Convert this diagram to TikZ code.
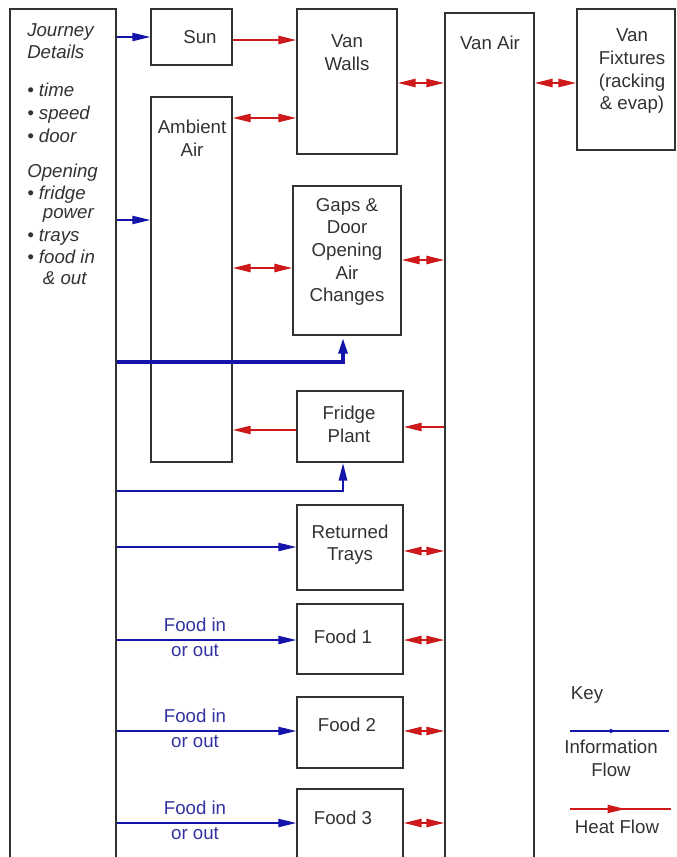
\documentclass[tikz,border=0pt]{standalone}
\usepackage{fontspec}
\setmainfont{Liberation Sans}
\usetikzlibrary{arrows.meta,positioning,calc,fit,decorations.markings}
\definecolor{infoblue}{RGB}{20,20,170}
\definecolor{heatred}{RGB}{205,25,25}
\definecolor{boxgray}{RGB}{50,50,50}
\definecolor{labelblue}{RGB}{50,50,160}
\tikzset{Hd/.tip={Triangle[length=13.5pt,width=6pt]}}

\begin{document}
\begin{tikzpicture}[x=0.75pt,y=-0.75pt,
	box/.style={draw=boxgray, line width=0.8pt, inner sep=0pt},
	txt/.style={text=boxgray, font=\fontsize{14}{17}\selectfont, align=center},
	jtxt/.style={text=boxgray, font=\fontsize{14}{17}\selectfont\itshape, anchor=base west, inner sep=0pt},
	flbl/.style={text=labelblue, font=\fontsize{14}{18.5}\selectfont, align=center},
	info/.style={draw=infoblue, line width=1.5pt, -Hd},
	infothick/.style={info, line width=3.7pt},
	heat/.style={draw=heatred, line width=1.6pt, -Hd},
	heat2/.style={heat, Hd-Hd}]
	\useasboundingbox (0,0) rectangle (676,857);
	\clip (0,0) rectangle (676,857);
	
	% boxes
	\node[box, fit={(10,9)(116,880)}] (jd) {};
	\node[box, fit={(151,9)(232,65)}] (sun) {};
	\node[box, fit={(297,9)(397,154)}] (walls) {};
	\node[box, fit={(151,97)(232,462)}] (amb) {};
	\node[box, fit={(445,13)(534,880)}] (vanair) {};
	\node[box, fit={(577,9)(675,150)}] (fix) {};
	\node[box, fit={(293,186)(401,335)}] (gaps) {};
	\node[box, fit={(297,391)(403,462)}] (fridge) {};
	\node[box, fit={(297,505)(403,590)}] (trays) {};
	\node[box, fit={(297,604)(403,674)}] (food1) {};
	\node[box, fit={(297,697)(403,768)}] (food2) {};
	\node[box, fit={(297,789)(403,880)}] (food3) {};
	
	% journey details
	\foreach \yy/\tx [count=\i] in {36/Journey, 58/Details, 96/{\textbullet\ time},
		119/{\textbullet\ speed}, 142/{\textbullet\ door}, 177/Opening,
		199/{\textbullet\ fridge}, 218/{\phantom{\textbullet\ }\hspace*{3pt}power},
		241/{\textbullet\ trays}, 263/{\textbullet\ food in},
		284/{\phantom{\textbullet\ }\hspace*{3pt}\& out}}
		\node[jtxt] (jt\i) at (27,\yy) {\tx};
	
	% box texts
	\node[txt] (suntxt) at (200,37) {Sun};
	\node[txt] (wallstxt) at (347,53) {Van\\Walls};
	\node[txt] (ambtxt) at (192,138) {Ambient\\Air};
	\node[txt] (vanairtxt) at (490,43) {Van Air};
	\node[txt] (fixtxt) at (632,71.5) {Van\\Fixtures\\(racking\\\& evap)};
	\node[txt] (gapstxt) at (347,252) {Gaps \&\\Door\\Opening\\Air\\Changes};
	\node[txt] (fridgetxt) at (349,424.5) {Fridge\\Plant};
	\node[txt] (traystxt) at (350,544.5) {Returned\\Trays};
	\node[txt] (food1txt) at (343,637) {Food 1};
	\node[txt] (food2txt) at (347,725) {Food 2};
	\node[txt] (food3txt) at (343,818) {Food 3};
	
	% flows
	\draw[info] (jd.east |- 0,37) -- (sun.west |- 0,37);
	\draw[heat] (sun.east |- 0,40) -- (walls.west |- 0,40);
	\draw[heat2] (amb.east |- 0,118) -- (walls.west |- 0,118);
	\draw[info] (jd.east |- 0,220) -- (amb.west |- 0,220);
	\draw[heat2] (amb.east |- 0,268) -- (gaps.west |- 0,268);
	\draw[heat2] (walls.east |- 0,83) -- (vanair.west |- 0,83);
	\draw[heat2] (vanair.east |- 0,83) -- (fix.west |- 0,83);
	\draw[heat2] (gaps.east |- 0,260) -- (vanair.west |- 0,260);
	\draw[infothick] (jd.east |- 0,362) -| (gaps.south -| 343,0);
	\draw[heat] (fridge.west |- 0,430) -- (amb.east |- 0,430);
	\draw[heat] (vanair.west |- 0,427) -- (fridge.east |- 0,427);
	\draw[info, line width=2pt] (jd.east |- 0,491) -| (fridge.south -| 343,0);
	\draw[info] (jd.east |- 0,547) -- (trays.west |- 0,547);
	\draw[heat2] (trays.east |- 0,551) -- (vanair.west |- 0,551);
	\foreach \f/\yy in {food1/640, food2/731, food3/823} {
		\draw[info] (jd.east |- 0,\yy) -- (\f.west |- 0,\yy);
		\node[flbl] (\f lbl) at (195,\yy-3) {Food in\\or out};
		\draw[heat2] (\f.east |- 0,\yy) -- (vanair.west |- 0,\yy);
	}
	
	% key
	\node[txt] (key) at (587,695) {Key};
	\coordinate (ia) at (570,731);
	\coordinate (ib) at (669,731);
	\draw[draw=infoblue, line width=1.5pt, postaction={decorate},
		decoration={markings, mark=at position 0.47 with {\arrow[infoblue]{Triangle[length=5pt,width=3pt]}}}] (ia) -- (ib);
	\node[txt] (infolbl) at (611,758) {Information\\Flow};
	\coordinate (ha) at (570,809);
	\coordinate (hb) at (671,809);
	\draw[draw=heatred, line width=1.6pt, postaction={decorate},
		decoration={markings, mark=at position 0.55 with {\arrow[heatred]{Hd}}}] (ha) -- (hb);
	\node[txt] (heatlbl) at (617,827) {Heat Flow};
\end{tikzpicture}
\end{document}
